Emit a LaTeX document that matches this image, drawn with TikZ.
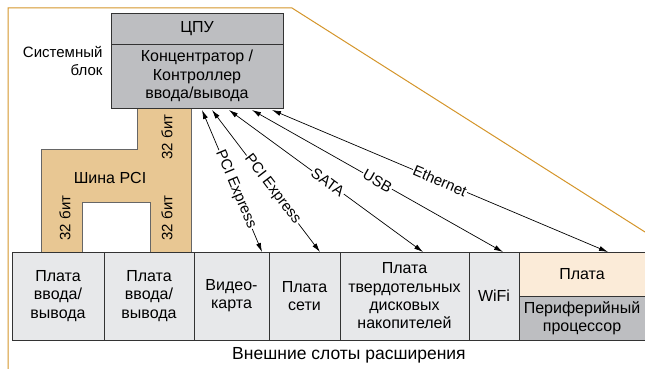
\documentclass[tikz,border=0pt]{standalone}
\usepackage{fontspec}
\setmainfont{Liberation Sans}
\usetikzlibrary{arrows.meta}

\definecolor{boxgray}{HTML}{BDBEC1}
\definecolor{slotgray}{HTML}{E7E8EA}
\definecolor{pcitan}{HTML}{E8C793}
\definecolor{cardcream}{HTML}{FBEBD8}
\definecolor{caseline}{HTML}{D4952A}

\begin{document}
\begin{tikzpicture}
  [x=1pt,y=-1pt,font=\fontsize{16}{18.3}\selectfont,
   box/.style={draw=black!80,line width=0.8pt,inner sep=0pt,outer sep=0pt,align=center},
   slot/.style={box,fill=slotgray,minimum height=88pt},
   bus/.style={{Latex[length=9pt,width=5pt]}-{Latex[length=9pt,width=5pt]},line width=0.7pt},
   tag/.style={sloped,fill=white,inner sep=1pt,font=\fontsize{15}{17}\selectfont}]
  \useasboundingbox (0,0) rectangle (645,369);
  % system unit outline
  \draw[caseline,line width=1pt] (8,369) -- (8,8) -- (292,8) -- (645,232);
  \node[align=right,anchor=east,font=\fontsize{15}{18}\selectfont] (nunit) at (106,61) {Системный\\блок};

  % pci bus
  \draw[fill=pcitan,draw=black!60,line width=0.6pt] (137,108) -- (191,108) -- (191,252)
    -- (150,252) -- (150,202) -- (82,202) -- (82,252) -- (41,252) -- (41,149)
    -- (137,149) -- cycle;
  \node (npci) at (110,178) {Шина PCI};
  \node[rotate=90,font=\fontsize{15}{17}\selectfont] (nw1) at (167,137) {32 бит};
  \node[rotate=90,font=\fontsize{15}{17}\selectfont] (nw2) at (65,218) {32 бит};
  \node[rotate=90,font=\fontsize{15}{17}\selectfont] (nw3) at (167,218) {32 бит};

  % cpu and hub
  \node[box,fill=boxgray,minimum width=172pt,minimum height=31pt] (ncpu) at (197,28.5) {ЦПУ};
  \node[box,fill=boxgray,minimum width=172pt,minimum height=64pt] (nhub) at (197,76)
    {Концентратор /\\Контроллер\\ввода/вывода};

  % expansion slots
  \node[slot,minimum width=92pt] (nio1) at (58,296) {Плата\\ввода/\\вывода};
  \node[slot,minimum width=90pt] (nio2) at (149,296) {Плата\\ввода/\\вывода};
  \node[slot,minimum width=75pt] (nvid) at (231.5,296) {Видео-\\карта};
  \node[slot,minimum width=71pt] (nnet) at (304.5,296) {Плата\\сети};
  \node[slot,minimum width=129pt] (nssd) at (404.5,296) {Плата\\твердотельных\\дисковых\\накопителей};
  \node[slot,minimum width=50pt] (nwifi) at (494,296) {WiFi};
  \node[box,fill=cardcream,minimum width=126pt,minimum height=44pt] (ncard) at (582,274) {Плата};
  \node[box,fill=boxgray,minimum width=126pt,minimum height=44pt] (nproc) at (582,318)
    {Периферийный\\процессор};
  \node[font=\fontsize{17.5}{20}\selectfont] (nslots) at (349,355) {Внешние слоты расширения};

  % links from the hub
  \draw[bus] ([xshift=91pt,yshift=-2pt]nhub.south west) -- node[tag,pos=.56] {PCI Express}
    ([xshift=-7pt]nvid.north east);
  \draw[bus] ([xshift=101pt,yshift=-2pt]nhub.south west) -- node[tag,pos=.56] {PCI Express}
    ([xshift=-20pt]nnet.north east);
  \draw[bus] ([xshift=118pt,yshift=-2pt]nhub.south west) -- node[tag,pos=.51] {SATA}
    ([xshift=-46pt]nssd.north east);
  \draw[bus] ([xshift=141pt,yshift=-2pt]nhub.south west) -- node[tag,pos=.5] {USB}
    ([xshift=-16pt]nwifi.north east);
  \draw[bus] ([xshift=161pt,yshift=-2pt]nhub.south west) -- node[tag,pos=.5] {Ethernet}
    ([xshift=89pt]ncard.north west);
\end{tikzpicture}
\end{document}
